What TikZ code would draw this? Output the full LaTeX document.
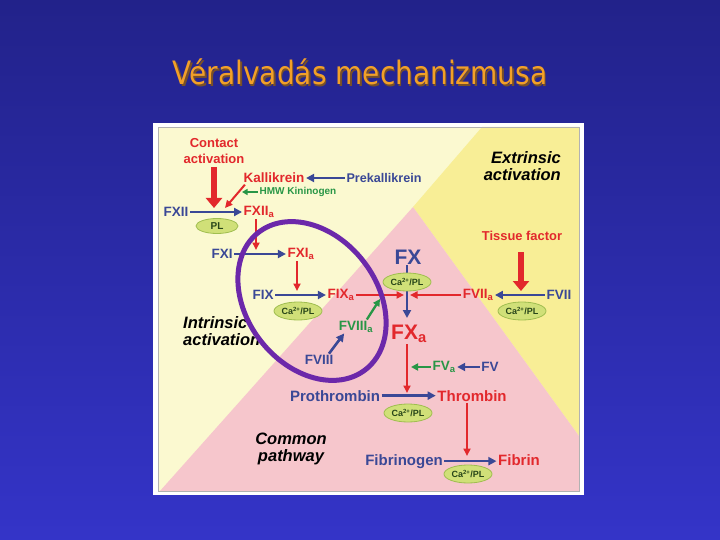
\documentclass[tikz,border=0pt]{standalone}
\usepackage{fontspec}
\setmainfont{Liberation Sans}
\newfontfamily\titlefont{DejaVu Sans}
\usetikzlibrary{arrows.meta,shapes.geometric}
\definecolor{bgtop}{RGB}{34,34,138}
\definecolor{bgbot}{RGB}{52,52,200}
\definecolor{lyel}{RGB}{251,249,208}
\definecolor{yel}{RGB}{248,238,150}
\definecolor{mypink}{RGB}{246,198,204}
\definecolor{lblue}{RGB}{58,72,150}
\definecolor{lred}{RGB}{226,40,44}
\definecolor{lgreen}{RGB}{40,150,70}
\definecolor{ellfill}{RGB}{208,224,120}
\definecolor{elldraw}{RGB}{160,190,80}
\definecolor{elltext}{RGB}{40,70,25}
\definecolor{titleor}{RGB}{242,160,40}
\definecolor{titlesh}{RGB}{120,80,40}
\definecolor{purp}{RGB}{108,40,170}
\begin{document}
\begin{tikzpicture}[x=1pt,y=-1pt,
  lab/.style={inner sep=1.5pt, font=\bfseries\fontsize{13.5}{14}\selectfont},
  bl/.style={lab,text=lblue},
  rd/.style={lab,text=lred},
  gr/.style={lab,text=lgreen},
  big/.style={inner sep=1pt,font=\bfseries\fontsize{21}{22}\selectfont},
  fifteen/.style={font=\bfseries\fontsize{15}{16}\selectfont},
  region/.style={font=\bfseries\itshape\fontsize{16.5}{16.5}\selectfont, text=black, inner sep=0pt},
  cabox/.style={ellipse, fill=ellfill, draw=elldraw, line width=0.8pt, minimum width=48pt, minimum height=18pt, inner sep=0pt, text=elltext, font=\bfseries\fontsize{9}{9}\selectfont},
  barr/.style={draw=lblue, line width=2.6pt, -{Triangle[length=8pt,width=8pt]}},
  rarr/.style={draw=lred, line width=2pt, -{Triangle[length=7.5pt,width=7pt]}},
  garr/.style={draw=lgreen, line width=2.3pt, -{Triangle[length=7pt,width=7pt]}},
  fatarr/.style={draw=lred, line width=6.5pt, -{Triangle[length=10pt,width=16pt]}},
]
% background
\shade[top color=bgtop, bottom color=bgbot] (0,0) rectangle (720,540);
\useasboundingbox (0,0) rectangle (720,540);
% title
\node[text=titlesh, font=\titlefont\fontsize{28}{30}\selectfont] (titlesh) at (361.5,73.5) {\scalebox{1}[1.15]{Véralvadás mechanizmusa}};
\node[text=titleor, font=\titlefont\fontsize{28}{30}\selectfont] (title) at (360,72) {\scalebox{1}[1.15]{Véralvadás mechanizmusa}};
% panel
\fill[white] (153,123) rectangle (584,495);
\fill[lyel] (158,127) rectangle (579,491);
\fill[yel] (482,127) -- (579,127) -- (579,436) -- (413,207) -- cycle;
\fill[mypink] (413,207) -- (579,436) -- (579,491) -- (160,491) -- cycle;
\draw[gray!60, line width=0.6pt] (158,127) rectangle (579,491);

% contact activation
\node[rd, align=center, font=\bfseries\fontsize{13}{16}\selectfont] (contact) at (214,151) {Contact\\activation};
\node[rd] (kal) at (274,178) {Kallikrein};
\node[bl, font=\bfseries\fontsize{12.6}{13}\selectfont] (prek) at (384,178) {Prekallikrein};
\draw[barr] (prek.west) -- (kal.east);
\node[gr, font=\bfseries\fontsize{10}{11}\selectfont] (hmw) at (298,192) {HMW Kininogen};
\coordinate (hmwend) at (242,192);
\draw[garr, line width=1.8pt, -{Triangle[length=5.5pt,width=6pt]}] (hmw.west) -- (hmwend);

\node[bl] (fxii) at (176,212) {FXII};
\node[rd] (fxiia) at (259,212) {FXII\textsubscript{a}};
\draw[barr] (fxii.east) -- (fxiia.west);
\coordinate (c1) at (214,208);
\draw[fatarr] ([yshift=-2pt]contact.south) -- (c1);
\coordinate (c1b) at (225,208);
\draw[rarr] ([xshift=3pt]kal.south west) -- (c1b);
\node[cabox, minimum width=42pt, minimum height=15pt, font=\bfseries\fontsize{10}{10}\selectfont] (pl) at (217,226) {PL};

% FXI row
\node[bl] (fxi) at (222,254) {FXI};
\node[rd] (fxia) at (301,254) {FXI\textsubscript{a}};
\draw[barr] (fxi.east) -- (fxia.west);
\coordinate (c2) at (256,250);
\draw[rarr] (fxiia.south -| c2) -- (c2);

% FIX row
\node[bl] (fix) at (263,295) {FIX};
\node[rd] (fixa) at (341,295) {FIX\textsubscript{a}};
\draw[barr] (fix.east) -- (fixa.west);
\coordinate (c3) at (297,291);
\draw[rarr] (fxia.south -| c3) -- (c3);
\node[cabox] (ca1) at (298,311) {Ca\textsuperscript{2+}/PL};

% FX
\node[bl, big] (fx) at (408,257) {FX};
\node[rd, big] (fxa) at (409,334) {FX\textsubscript{a}};
\coordinate (c9) at (407,318);
\draw[barr] (fx.south -| c9) -- (c9);
\node[cabox] (ca2) at (407,282) {Ca\textsuperscript{2+}/PL};
\coordinate (cxl) at (404,295);
\coordinate (cxr) at (410,295);
\draw[rarr] (fixa.east) -- (cxl);
\node[rd] (fviia) at (478,295) {FVII\textsubscript{a}};
\node[bl] (fvii) at (559,295) {FVII};
\draw[rarr] (fviia.west) -- (cxr);
\draw[barr] (fvii.west) -- (fviia.east);
\node[cabox] (ca3) at (522,311) {Ca\textsuperscript{2+}/PL};
\node[rd, font=\bfseries\fontsize{12.9}{13}\selectfont] (tf) at (522,236) {Tissue factor};
\coordinate (c5) at (521,291);
\draw[fatarr] ([yshift=-10pt]tf.south -| c5) -- (c5);

% FVIII
\node[gr] (fviiia) at (356,327) {FVIII\textsubscript{a}};
\node[bl] (fviii) at (319,360) {FVIII};
\draw[barr] ([xshift=-6pt]fviii.north east) -- ([xshift=7pt,yshift=1pt]fviiia.south west);
\coordinate (c4) at (380,299);
\draw[garr] ([xshift=-8pt]fviiia.north east) -- (c4);

% FV
\node[gr] (fva) at (444,367) {FV\textsubscript{a}};
\node[bl] (fv) at (490,367) {FV};
\draw[barr] (fv.west) -- (fva.east);
\coordinate (c7) at (411,367);
\draw[garr] (fva.west) -- (c7);
\coordinate (c6) at (407,393);
\draw[rarr] (fxa.south -| c6) -- (c6);

% common pathway
\node[bl, fifteen, anchor=base] (pro) at (335,401) {Prothrombin};
\node[rd, fifteen, anchor=base] (thr) at (472,401) {Thrombin};
\draw[barr] (pro.east) -- (pro.east -| thr.west);
\node[cabox] (ca4) at (408,413) {Ca\textsuperscript{2+}/PL};
\coordinate (c8) at (467,456);
\draw[rarr] (thr.south -| c8) -- (c8);
\node[bl, fifteen, anchor=base] (fbg) at (404,465) {Fibrinogen};
\node[rd, fifteen, anchor=base] (fbn) at (519,465) {Fibrin};
\draw[barr] (fbg.east) -- (fbg.east -| fbn.west);
\node[cabox] (ca5) at (468,474) {Ca\textsuperscript{2+}/PL};

% region labels
\node[region, align=right, anchor=east] (ext) at (561,166) {Extrinsic\\activation};
\node[region, align=left, anchor=west] (intr) at (183,331) {Intrinsic\\activation};
\node[region, align=center] (com) at (291,449) {Common\\pathway};

% purple ellipse
\draw[purp, line width=5pt, rotate around={-52:(312,301)}] (312,301) ellipse [x radius=87pt, y radius=65pt];
\end{tikzpicture}
\end{document}
